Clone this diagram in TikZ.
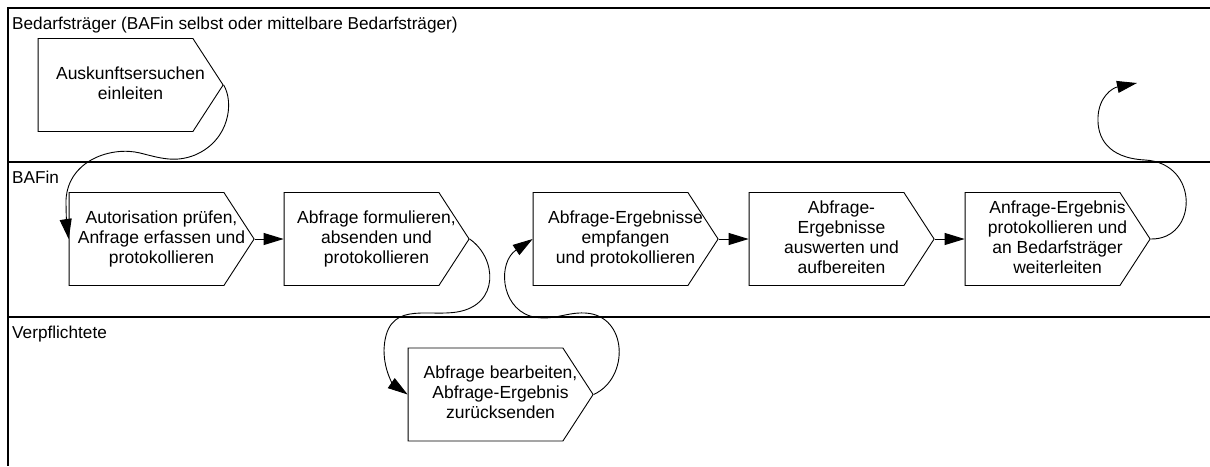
\documentclass[tikz,border=0pt]{standalone}
\usepackage{fontspec}
\setmainfont{Liberation Sans}
\usetikzlibrary{shapes.symbols,arrows.meta}
\newcommand\proctext[1]{\makebox[0pt]{\hspace*{30pt}\begin{tabular}{@{}c@{}}#1\end{tabular}}}
\tikzset{
    proc/.style={draw,line width=0.9pt,signal,signal to=east,signal from=nowhere,
        signal pointer angle=114,minimum width=185pt,minimum height=93pt,
        inner sep=0pt,font=\fontsize{17.5}{20}\selectfont},
    lane/.style={line width=1.2pt},
    lanelabel/.style={anchor=base west,inner sep=0pt,font=\fontsize{17.2}{20}\selectfont},
    flow/.style={line width=0.9pt,-{Triangle[length=20pt,width=12pt]}},
}
\begin{document}
\begin{tikzpicture}[x=1pt,y=-1pt]
            \useasboundingbox (0,0) rectangle (1210,466);
            \draw[lane] (1210,8) -- (8,8) -- (8,466);
            \draw[lane] (8,162) -- (1210,162);
            \draw[lane] (8,317) -- (1210,317);
            \node[lanelabel] (l1) at (12,29) {Bedarfsträger (BAFin selbst oder mittelbare Bedarfsträger)};
            \node[lanelabel] (l2) at (12,183) {BAFin};
            \node[lanelabel] (l3) at (12,338) {Verpflichtete};

            \node[proc] (a1) at (115.5,85) {\proctext{Auskunftsersuchen\\einleiten}};
            \node[proc] (a2) at (146.5,239) {\proctext{Autorisation prüfen,\\Anfrage erfassen und\\protokollieren}};
            \node[proc] (a3) at (361.5,239) {\proctext{Abfrage formulieren,\\absenden und\\protokollieren}};
            \node[proc] (a4) at (610.5,239) {\proctext{Abfrage-Ergebnisse\\empfangen\\und protokollieren}};
            \node[proc] (a5) at (826.5,239) {\proctext{Abfrage-\\Ergebnisse\\auswerten und\\aufbereiten}};
            \node[proc] (a6) at (1042.5,239) {\proctext{Anfrage-Ergebnis\\protokollieren und\\an Bedarfsträger\\weiterleiten}};
            \node[proc] (a7) at (485.5,394.5) {\proctext{Abfrage bearbeiten,\\Abfrage-Ergebnis\\zurücksenden}};
            \coordinate (out) at (1137,83);

            \draw[flow] (a2.east) -- (a3.west);
            \draw[flow] (a4.east) -- (a5.west);
            \draw[flow] (a5.east) -- (a6.west);
            \draw[flow] (a1.east) .. controls (234,102) and (230,140) .. (195,155)
                .. controls (175,163) and (160,158) .. (140,153)
                .. controls (112,146) and (68,160) .. (66,200)
                .. controls (66,215) and (67,228) .. (a2.west);
            \draw[flow] (a3.east) .. controls (497,258) and (500,305) .. (457,312)
                .. controls (425,317) and (386,300) .. (384,350)
                .. controls (384,372) and (394,385) .. (a7.west);
            \draw[flow] (a7.east) .. controls (630,378) and (628,315) .. (585,313)
                .. controls (565,312) and (552,322) .. (530,316)
                .. controls (500,306) and (498,262) .. (a4.west);
            \draw[flow] (a6.east) .. controls (1198,240) and (1200,163) .. (1145,160)
                .. controls (1107,158) and (1097,137) .. (1098,117)
                .. controls (1099,97) and (1112,88) .. (out);
\end{tikzpicture}
\end{document}
